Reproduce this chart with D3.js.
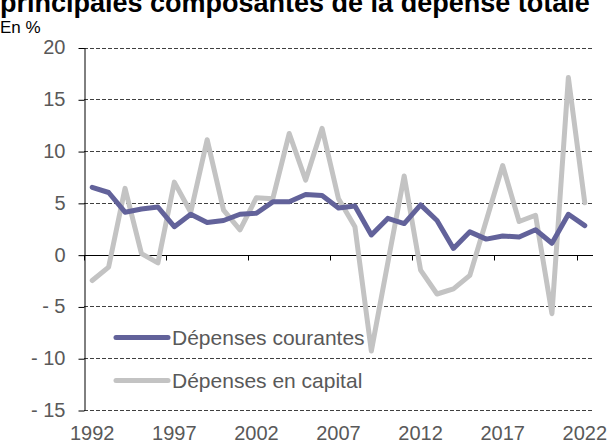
<!DOCTYPE html>
<html>
<head>
<meta charset="utf-8">
<script src="https://cdn.jsdelivr.net/npm/d3@7"></script>
<style>
  body { margin: 0; background: #fff; }
  svg { display: block; font-family: "Liberation Sans", Arial, sans-serif; }
</style>
</head>
<body>
<div id="chart"></div>
<script>
// Data
const years = d3.range(1992, 2023);
const courantes = [6.5, 6.0, 4.1, 4.4, 4.6, 2.7, 3.9, 3.1, 3.3, 3.9,
                   4.0, 5.1, 5.1, 5.8, 5.7, 4.5, 4.7, 1.9, 3.5, 3.0,
                   4.8, 3.3, 0.6, 2.2, 1.5, 1.8, 1.7, 2.4, 1.1, 3.9, 2.8];
const capital = [-2.5, -1.2, 6.4, 0.1, -0.8, 7.0, 4.1, 11.1, 4.3, 2.4,
                 5.5, 5.4, 11.7, 7.2, 12.2, 5.4, 2.7, -9.3, -0.8, 7.6,
                 -1.5, -3.8, -3.3, -2.0, 3.3, 8.6, 3.2, 3.8, -5.7, 17.1, 5.0];
const yTicks = [-15, -10, -5, 0, 5, 10, 15, 20];
const xLabels = [1992, 1997, 2002, 2007, 2012, 2017, 2022];

const series = [
  {name: "Dépenses courantes", values: courantes, color: "#62629a"},
  {name: "Dépenses en capital", values: capital, color: "#c3c3c3"}
];

const W = 609, H = 444;
const svg = d3.select("#chart").append("svg")
  .attr("width", W).attr("height", H);

const x = d3.scaleBand().domain(years).range([84, 593]);
const y = d3.scaleLinear().domain([-15, 20]).range([410, 47.5]);

// title (cut off at top, as in the source) and unit
svg.append("text")
  .attr("x", 0).attr("y", 12)
  .attr("font-weight", "bold").attr("font-size", 27)
  .attr("fill", "#000")
  .text("principales composantes de la dépense totale");
svg.append("text")
  .attr("x", 0).attr("y", 33)
  .attr("font-size", 17).attr("fill", "#000")
  .text("En %");

// gridlines
svg.append("g").selectAll("line")
  .data(yTicks.filter(d => d !== 0))
  .enter().append("line")
  .attr("x1", 84).attr("x2", 593)
  .attr("y1", d => Math.round(y(d)) + 0.5)
  .attr("y2", d => Math.round(y(d)) + 0.5)
  .attr("stroke", "#404040")
  .attr("stroke-dasharray", "4,2");

// y axis
const yAxis = svg.append("g")
  .attr("transform", "translate(84.5,0)")
  .call(d3.axisLeft(y).tickValues(yTicks).tickSize(6).tickSizeOuter(0)
    .tickFormat(d => d < 0 ? "- " + Math.abs(d) : d));
yAxis.select(".domain").attr("stroke", "#000");
yAxis.selectAll(".tick line").attr("stroke", "#000")
  .attr("transform", "translate(0,0.5)");
yAxis.selectAll(".tick text")
  .attr("font-size", 20).attr("fill", "#595959")
  .attr("font-family", "Liberation Sans, Arial, sans-serif")
  .attr("x", -19);

// x axis along zero
const tickPos = d3.range(0, 31, 5).map(i => 84 + i * x.step());
const y0 = Math.round(y(0)) + 0.5;
const xAxis = svg.append("g");
xAxis.append("line")
  .attr("x1", 84).attr("x2", 593)
  .attr("y1", y0).attr("y2", y0)
  .attr("stroke", "#000");
xAxis.selectAll("line.t").data(tickPos).enter().append("line")
  .attr("class", "t")
  .attr("x1", d => Math.round(d) + 0.5).attr("x2", d => Math.round(d) + 0.5)
  .attr("y1", y0).attr("y2", y0 + 5)
  .attr("stroke", "#000");

// x labels at bottom
svg.append("g").selectAll("text")
  .data(xLabels)
  .enter().append("text")
  .attr("x", d => x(d) + x.bandwidth() / 2)
  .attr("y", 440)
  .attr("text-anchor", "middle")
  .attr("font-size", 20).attr("fill", "#595959")
  .text(d => d);

// legend
const legend = svg.append("g");
series.forEach((s, i) => {
  const ly = 337.5 + i * 43;
  legend.append("line")
    .attr("x1", 116).attr("x2", 168)
    .attr("y1", ly).attr("y2", ly)
    .attr("stroke", s.color).attr("stroke-width", 5)
    .attr("stroke-linecap", "round");
  legend.append("text")
    .attr("x", 172).attr("y", ly + 7.5)
    .attr("font-size", 21).attr("fill", "#595959")
    .text(s.name);
});

// lines
const line = d3.line()
  .x((d, i) => x(years[i]) + x.bandwidth() / 2)
  .y(d => y(d));

svg.append("g").selectAll("path")
  .data(series.slice().reverse())
  .enter().append("path")
  .attr("d", d => line(d.values))
  .attr("fill", "none")
  .attr("stroke", d => d.color)
  .attr("stroke-width", 5)
  .attr("stroke-linejoin", "round")
  .attr("stroke-linecap", "round");
</script>
</body>
</html>
